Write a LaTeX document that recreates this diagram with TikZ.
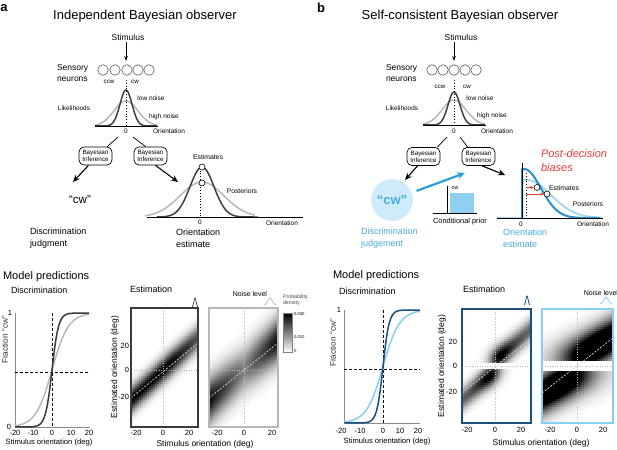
\documentclass[tikz,border=0pt]{standalone}
\usepackage{fontspec}
\setmainfont{Liberation Sans}
\usetikzlibrary{arrows.meta}
\definecolor{navy}{HTML}{1C4E80}
\definecolor{lblue}{HTML}{86CFEF}
\definecolor{tblue}{HTML}{45ACDF}
\definecolor{mblue}{HTML}{2B8FCC}
\definecolor{pblue}{HTML}{A8D9F1}
\definecolor{cwfill}{HTML}{CFEAF8}
\definecolor{priorc}{HTML}{8FD0F0}
\definecolor{arrblue}{HTML}{2A9FDB}
\definecolor{pdred}{HTML}{E43D3A}
\definecolor{dgray}{HTML}{3A3A3A}
\definecolor{lgray}{HTML}{B8B8B8}
\definecolor{axgray}{HTML}{8A8A8A}
\newcommand\fsz[1]{\fontsize{#1}{#1}\selectfont}
\newcommand\heatcells[5]{%
  \foreach \i in {0,...,#3}{%
    \foreach \j in {0,...,#4}{%
      \pgfmathsetmacro\px{#1+2*\i}%
      \pgfmathsetmacro\py{#2+2*\j}%
      \pgfmathsetmacro\xd{(\px+1-\hx)/\hsx}%
      \pgfmathsetmacro\yd{(\hy-\py-1)/\hsy}%
      #5%
      \ifdim\dd pt>1.5pt\relax \fill[black!\dd] (\px,\py) rectangle ++(2.35,2.35);\fi
    }}}
\newcommand\densA[3]{%
  \pgfmathsetmacro\zz{(\yd-#1*(\xd))/#2}%
  \pgfmathsetmacro\dd{min(100,(#3)*exp(-min((\zz)*(\zz)/2,15)))}}
\newcommand\densB[8]{%
  \pgfmathsetmacro\xs{(2*(\yd>0)-1)*(\xd)}%
  \pgfmathsetmacro\ya{abs(\yd)}%
  \pgfmathsetmacro\pp{1/(1+exp(max(min(-1.7*(\xs)/#2,9),-9)))}%
  \pgfmathsetmacro\mm{#3+#4*ln(1+exp(min((\xs)/#5,9)))}%
  \pgfmathsetmacro\zz{(\ya-\mm)/#6}%
  \pgfmathsetmacro\dd{(\ya>#1)*min(100,#7*(0.25+0.75*exp(-(\mm-#1)/#8))*\pp*exp(-min((\zz)*(\zz)/2,15)))}}
\tikzset{
  txt/.style={inner sep=0pt, outer sep=0pt},
  arrowbig/.style={line width=1.1, -{Stealth[length=7pt,width=6pt]}},
  arrowsmall/.style={line width=0.7, -{Stealth[length=5pt,width=3.5pt]}},
  bibox/.style={draw, rounded corners=5, line width=0.7, minimum width=33, minimum height=18, inner sep=0.5, align=center, font=\fontsize{6.3}{7}\selectfont},
  neuron/.style={circle, draw=black!65, line width=0.6, minimum size=10.5, inner sep=0},
  estc/.style={circle, draw=black, fill=white, line width=0.6, minimum size=6, inner sep=0},
  axis/.style={axgray, line width=0.6},
  guide/.style={black, dashed, line width=0.5, dash pattern=on 3pt off 2pt},
  hmdot/.style={gray!55, dotted, line width=0.5},
  hmdiag/.style={white!70!gray, line width=0.7, dash pattern=on 2pt off 1.5pt},
}
\begin{document}
\begin{tikzpicture}[x=1pt,y=-1pt]
\useasboundingbox (0,0) rectangle (617,449);
\fill[white] (0,0) rectangle (617,449);

% ================= Panel a, top =================
\node[txt, font=\bfseries\fsz{13}] (la) at (4,8) {a};
\node[txt, font=\fsz{13}] (ta) at (145,16) {Independent Bayesian observer};
\node[txt, font=\fsz{8.5}] (sa) at (128,37) {Stimulus};
\coordinate (sae) at (126,61);
\draw[arrowsmall] (sa.south -| sae) ++(0,2) -- (sae);
\foreach \k/\cx in {1/103,2/115,3/127,4/138,5/149}
  \node[neuron] (na\k) at (\cx,70) {};
\node[txt, anchor=west, align=left, font=\fontsize{8.5}{11}\selectfont] (sna) at (57,73.5) {Sensory\\neurons};
\node[txt, font=\fsz{6.2}] (ccwa) at (109,82) {ccw};
\node[txt, font=\fsz{6.2}] (cwa) at (135,82) {cw};
\node[txt, font=\fsz{6.5}] (lowa) at (151,98) {low noise};
\node[txt, font=\fsz{6.4}] (lika) at (74,108) {Likelihoods};
\node[txt, font=\fsz{6.5}] (higha) at (164,117) {high noise};
\draw[lgray, line width=1.5] plot[domain=-31:31, samples=60] ({126+\x},{126-25*exp(-(\x)*(\x)/(2*12*12))});
\draw[black!75, line width=1.5] plot[domain=-31:31, samples=60] ({126+\x},{126-36*exp(-(\x)*(\x)/(2*6*6))});
\draw[line width=0.6] (95,126) -- (158,126);
\draw[dotted, line width=0.8] (126,80) -- (126,126);
\node[txt, font=\fsz{6.5}] (za) at (126,131) {0};
\node[txt, font=\fsz{6.5}] (ora) at (169,131) {Orientation};
\node[bibox] (bila) at (95.5,156) {Bayesian\\Inference};
\node[bibox] (bira) at (150.5,156) {Bayesian\\Inference};
\coordinate (lka1) at (118,137);
\coordinate (lka2) at (133,137);
\draw[line width=0.7] (lka1) -- ([xshift=-5]bila.north east);
\draw[line width=0.7] (lka2) -- ([xshift=12]bira.north west);
\coordinate (cwtip) at (73,182);
\coordinate (posttip) at (178,182);
\draw[arrowbig] ([xshift=-7]bila.south) -- (cwtip);
\draw[arrowbig] ([xshift=5]bira.south) -- (posttip);
\node[txt, font=\fsz{11.5}] (cwta) at (80,200) {“cw”};
\node[txt, anchor=west, align=left, font=\fontsize{9}{12}\selectfont] (dja) at (30,238.5) {Discrimination\\judgment};
\node[txt, anchor=west, align=left, font=\fontsize{9}{12}\selectfont] (oea) at (176,238.5) {Orientation\\estimate};
% posteriors a
\draw[lgray, line width=1.5] plot[domain=-57:53, samples=70] ({202+\x},{217-35*exp(-(\x)*(\x)/(2*22*22))});
\draw[black!75, line width=1.5] plot[domain=-45:56, samples=70] ({202+\x},{217-50*exp(-(\x)*(\x)/(2*12*12))});
\draw[line width=0.6] (147,217) -- (303,217);
\draw[dotted, line width=0.8] (200,165) -- (200,217);
\node[estc] (ea1) at (202,167) {};
\node[estc] (ea2) at (202,183) {};
\node[txt, font=\fsz{6.8}] (esta) at (208,157) {Estimates};
\node[txt, font=\fsz{6.7}] (posa) at (242,191) {Posteriors};
\node[txt, font=\fsz{6.5}] (z2a) at (200,222.5) {0};
\node[txt, font=\fsz{6.5}] (or2a) at (282,223) {Orientation};

% ================= Panel b, top =================
\node[txt, font=\bfseries\fsz{13}] (lb) at (321,8) {b};
\node[txt, font=\fsz{13}] (tb) at (460,16) {Self-consistent Bayesian observer};
\node[txt, font=\fsz{8.5}] (sb) at (461,37) {Stimulus};
\coordinate (sbe) at (454,61);
\draw[arrowsmall] (sb.south -| sbe) ++(0,2) -- (sbe);
\foreach \k/\cx in {1/432,2/443,3/454,4/465,5/476}
  \node[neuron] (nb\k) at (\cx,70) {};
\node[txt, anchor=west, align=left, font=\fontsize{8.5}{11}\selectfont] (snb) at (386,73.5) {Sensory\\neurons};
\node[txt, font=\fsz{6.2}] (ccwb) at (440,87) {ccw};
\node[txt, font=\fsz{6.2}] (cwb2) at (467,87) {cw};
\node[txt, font=\fsz{6.5}] (lowb) at (480,98) {low noise};
\node[txt, font=\fsz{6.4}] (likb) at (402,108) {Likelihoods};
\node[txt, font=\fsz{6.5}] (highb) at (492,116) {high noise};
\draw[lgray, line width=1.5] plot[domain=-31:31, samples=60] ({454+\x},{125-25*exp(-(\x)*(\x)/(2*12*12))});
\draw[black!75, line width=1.5] plot[domain=-31:31, samples=60] ({454+\x},{125-33*exp(-(\x)*(\x)/(2*6*6))});
\draw[line width=0.6] (423,125) -- (486,125);
\draw[dotted, line width=0.8] (454,80) -- (454,125);
\node[txt, font=\fsz{6.5}] (zb) at (454,131) {0};
\node[txt, font=\fsz{6.5}] (orb) at (497,131) {Orientation};
\node[bibox] (bilb) at (423.5,156.5) {Bayesian\\Inference};
\node[bibox] (birb) at (478.5,156.5) {Bayesian\\Inference};
\coordinate (lkb1) at (447,137);
\coordinate (lkb2) at (460,137);
\draw[line width=0.7] (lkb1) -- ([xshift=-3]bilb.north east);
\draw[line width=0.7] (lkb2) -- ([xshift=6]birb.north west);
\coordinate (cwtipb) at (405,180);
\coordinate (posttipb) at (505,175);
\draw[arrowbig] ([xshift=-6]bilb.south) -- (cwtipb);
\draw[arrowbig] ([xshift=3.5]birb.south) -- (posttipb);
\node[circle, fill=cwfill, minimum size=42, inner sep=0, text=tblue, font=\bfseries\fsz{13}] (cwcirc) at (392,200) {“cw”};
\coordinate (bluetip) at (465,173);
\draw[arrblue, line width=2.2, -{Stealth[length=8pt,width=7pt]}, shorten <=5pt] (cwcirc) -- (bluetip);
% conditional prior
\fill[priorc] (449.5,193) rectangle (474,213);
\draw[line width=0.7] (447,186) -- (447,213);
\draw[line width=0.7] (433,213) -- (477,213);
\node[txt, font=\fsz{5.5}] (pcw) at (455,188.5) {cw};
\node[txt, font=\fsz{7.4}] (cpr) at (460,222) {Conditional prior};
\node[txt, anchor=west, align=left, text=tblue, font=\fontsize{9}{12}\selectfont] (djb) at (361,238.5) {Discrimination\\judgement};
\node[txt, anchor=west, align=left, text=tblue, font=\fontsize{9}{12}\selectfont] (oeb) at (503,238.5) {Orientation\\estimate};
\node[txt, anchor=west, align=left, text=pdred, font=\itshape\fontsize{11}{14}\selectfont] (pdb) at (541,161) {Post-decision\\biases};
% posteriors b
\draw[pblue, line width=2] (497,218) -- (522,218) -- plot[domain=522:602, samples=60] (\x,{218-38*exp(-(\x-527)*(\x-527)/(2*24*24))});
\draw[mblue, line width=2] (522,218) -- plot[domain=522:600, samples=60] (\x,{218-49*exp(-(\x-524)*(\x-524)/(2*17*17))});
\draw[line width=0.7] (522,163) -- (522,218);
\draw[line width=0.6] (497,218) -- (603,218);
\draw[dotted, line width=0.8] (526,173) -- (526,218);
\node[estc] (eb1) at (537,187.5) {};
\node[estc] (eb2) at (547,194) {};
\coordinate (rb1) at (526,187.5);
\coordinate (rb2) at (526,194);
\draw[pdred, line width=0.8, -{Stealth[length=3.5pt,width=3.2pt]}] (rb1) -- (eb1.west);
\draw[pdred, line width=0.8, -{Stealth[length=3.5pt,width=3.2pt]}] (rb2) -- (eb2.west);
\node[txt, font=\fsz{6.8}] (estb) at (564,188) {Estimates};
\node[txt, font=\fsz{6.7}] (posb) at (588,204) {Posteriors};
\node[txt, font=\fsz{6.5}] (z2b) at (521,224) {0};
\node[txt, font=\fsz{6.5}] (or2b) at (593,224) {Orientation};

% ================= Panel a, bottom =================
\node[txt, anchor=west, font=\fsz{11}] (mpa) at (3,277) {Model predictions};
\node[txt, anchor=west, font=\fsz{9}] (dsa) at (11,290) {Discrimination};
\node[txt, anchor=west, font=\fsz{9}] (esa) at (130,289) {Estimation};
% psychometric a
\draw[axis] (15,313) -- (15,427) -- (90,427);
\draw[guide] (52,313) -- (52,427);
\draw[guide] (15,372) -- (90,372);
\draw[lgray, line width=1.5] plot[domain=-20:20, samples=60] ({52+1.85*\x},{427-114/(1+exp(min(9,-1.7*\x/7.5)))});
\draw[dgray, line width=1.5] plot[domain=-20:20, samples=80] ({52+1.85*\x},{427-114/(1+exp(min(9,-1.7*\x/3)))});
\node[txt, font=\fsz{7.5}] (ya1) at (10,313) {1};
\node[txt, font=\fsz{7.5}] (ya0) at (9,427) {0};
\foreach \lab/\xx in {-20/15,-10/33,0/52,10/71,20/89}
  \node[txt, font=\fsz{7.5}] at (\xx,433) {\lab};
\node[txt, rotate=90, font=\fsz{8.3}, text=black!80] (fra) at (5,340) {Fraction “cw”};
\node[txt, font=\fsz{7.6}] (sxa) at (49,443) {Stimulus orientation (deg)};
% heatmaps a
\begin{scope}
\clip (131,308) rectangle (198,427);
\def\hx{163.5}\def\hy{370}\def\hsx{1.3}\def\hsy{1.27}
\heatcells{131}{308}{34}{60}{\densA{0.95}{7}{100-1.5*max(0,\xd-5)}}
\draw[hmdot] (163.5,308) -- (163.5,427);
\draw[hmdot] (131,370) -- (198,370);
\draw[hmdiag] (131,398) -- (198,343);
\end{scope}
\draw[dgray, line width=1.5] (131,308) rectangle (198,427);
\begin{scope}
\clip (209,308) rectangle (278,427);
\def\hx{244}\def\hy{370}\def\hsx{1.3}\def\hsy{1.27}
\heatcells{209}{308}{35}{60}{\densA{0.9}{12}{50+45*abs(\xd)/26}}
\draw[hmdot] (244,308) -- (244,427);
\draw[hmdot] (209,370) -- (278,370);
\draw[hmdiag] (209,398) -- (278,343);
\end{scope}
\draw[lgray, line width=1.5] (209,308) rectangle (278,427);
\foreach \lab/\yy in {20/346,0/370,-20/397}
  \node[txt, anchor=east, font=\fsz{7.5}] at (129,\yy) {\lab};
\foreach \lab/\xx in {-20/136,0/163,20/189,-20/217,0/244,20/272}
  \node[txt, font=\fsz{7.5}] at (\xx,433) {\lab};
\node[txt, rotate=90, font=\fsz{8.5}] (eya) at (115,367) {Estimated orientation (deg)};
\node[txt, font=\fsz{8.5}] (exa) at (205,444) {Stimulus orientation (deg)};
\node[txt, anchor=east, font=\fsz{7}] (nla) at (267,294) {Noise level};
\draw[dgray, line width=0.7] plot[domain=-3:3, samples=25] ({195+\x},{307-9*exp(-(\x)*(\x)/(2*1.1*1.1))});
\draw[lgray, line width=0.7] plot[domain=-6:6, samples=30] ({270+\x},{305-7*exp(-(\x)*(\x)/(2*2.2*2.2))});
% colorbar
\shade[top color=black, bottom color=white] (283,313) rectangle (292,352);
\draw[gray, line width=0.4] (283,313) rectangle (292,352);
\node[txt, anchor=west, align=left, text=black!70, font=\fontsize{5.3}{6.2}\selectfont] (pdl) at (283,300.5) {Probability\\density};
\node[txt, anchor=west, font=\fsz{4.2}] (c30) at (294,314) {0.030};
\node[txt, anchor=west, font=\fsz{4.2}] (c10) at (294,337) {0.010};
\node[txt, anchor=west, font=\fsz{4.2}] (c0) at (294,351) {0};

% ================= Panel b, bottom =================
\node[txt, anchor=west, font=\fsz{11}] (mpb) at (333,276) {Model predictions};
\node[txt, anchor=west, font=\fsz{9}] (dsb) at (339,291) {Discrimination};
\node[txt, anchor=west, font=\fsz{9}] (esb) at (463,289) {Estimation};
\draw[axis] (344,310) -- (344,423) -- (420,423);
\draw[guide] (383,310) -- (383,423);
\draw[guide] (344,369) -- (420,369);
\draw[lblue, line width=1.5] plot[domain=-22:21, samples=60] ({383+1.75*\x},{423-113/(1+exp(min(9,-1.7*\x/8)))});
\draw[navy, line width=1.5] plot[domain=-22:21, samples=80] ({383+1.75*\x},{423-113/(1+exp(min(9,-1.7*\x/3)))});
\node[txt, font=\fsz{7.5}] (yb1) at (339,310) {1};
\foreach \lab/\xx in {-20/341,-10/360,0/383,10/400,20/418}
  \node[txt, font=\fsz{7.5}] at (\xx,431) {\lab};
\node[txt, rotate=90, font=\fsz{8.3}, text=black!80] (frb) at (333,343) {Fraction “cw”};
\node[txt, font=\fsz{7.6}] (sxb) at (387,442) {Stimulus orientation (deg)};
\begin{scope}
\clip (462,309) rectangle (531,423);
\def\hx{495}\def\hy{366}\def\hsx{1.3}\def\hsy{1.22}
\heatcells{462}{309}{35}{57}{\densB{2.5}{5}{2.5}{5}{5}{6.5}{230}{7}}
\draw[hmdot] (495,309) -- (495,423);
\draw[hmdot] (462,366) -- (531,366);
\draw[hmdiag] (462,393) -- (531,338);
\end{scope}
\draw[navy, line width=1.8] (462,309) rectangle (531,423);
\begin{scope}
\clip (542,309) rectangle (613,423);
\def\hx{577}\def\hy{366}\def\hsx{1.3}\def\hsy{1.22}
\heatcells{542}{309}{36}{57}{\densB{4}{16}{4}{7}{10}{11}{270}{22}}
\draw[hmdot] (577,309) -- (577,423);
\draw[hmdot] (542,366) -- (613,366);
\draw[hmdiag] (542,393) -- (613,338);
\end{scope}
\draw[lblue, line width=1.8] (542,309) rectangle (613,423);
\foreach \lab/\yy in {20/342,0/366,-20/392}
  \node[txt, anchor=east, font=\fsz{7.5}] at (457,\yy) {\lab};
\foreach \lab/\xx in {-20/467,0/495,20/521,-20/550,0/577,20/603}
  \node[txt, font=\fsz{7.5}] at (\xx,430) {\lab};
\node[txt, rotate=90, font=\fsz{8.5}] (eyb) at (442,366) {Estimated orientation (deg)};
\node[txt, font=\fsz{8.5}] (exb) at (541,443) {Stimulus orientation (deg)};
\node[txt, anchor=east, font=\fsz{7}] (nlb) at (618,293) {Noise level};
\draw[navy, line width=0.8] plot[domain=-3:3, samples=25] ({527+\x},{305-9*exp(-(\x)*(\x)/(2*1.1*1.1))});
\draw[lblue, line width=0.8] plot[domain=-6:6, samples=30] ({606+\x},{304-7*exp(-(\x)*(\x)/(2*2.2*2.2))});
\end{tikzpicture}
\end{document}
